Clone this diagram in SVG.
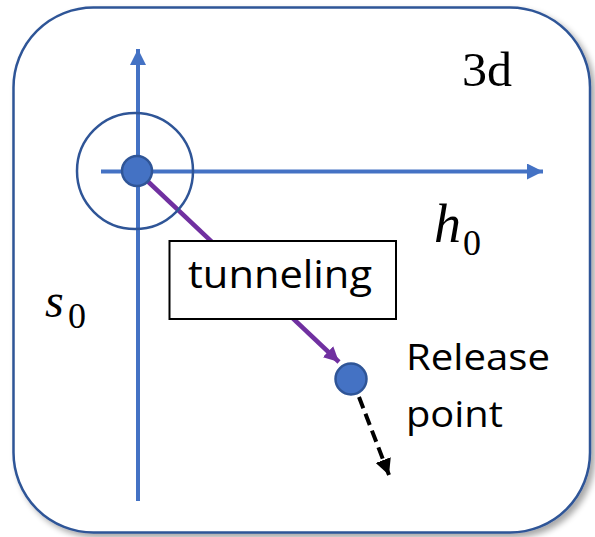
<svg xmlns="http://www.w3.org/2000/svg" width="595" height="537" viewBox="0 0 595 537">
  <defs>
    <filter id="shadow" x="-5%" y="-5%" width="115%" height="115%">
      <feGaussianBlur in="SourceAlpha" stdDeviation="3"/>
      <feOffset dx="4" dy="4" result="blur"/>
      <feComponentTransfer><feFuncA type="linear" slope="0.35"/></feComponentTransfer>
      <feMerge><feMergeNode/><feMergeNode in="SourceGraphic"/></feMerge>
    </filter>
    <marker id="headBlue" viewBox="0 0 16 16" refX="16" refY="8" markerWidth="16" markerHeight="16" markerUnits="userSpaceOnUse" orient="auto">
      <path d="M0,0 L16,8 L0,16 Z" fill="#4472C4"/>
    </marker>
    <marker id="headPurple" viewBox="0 0 15 15" refX="15" refY="7.5" markerWidth="15" markerHeight="15" markerUnits="userSpaceOnUse" orient="auto">
      <path d="M0,0 L15,7.5 L0,15 Z" fill="#7030A0"/>
    </marker>
    <marker id="headBlack" viewBox="0 0 16 16" refX="16" refY="8" markerWidth="16" markerHeight="16" markerUnits="userSpaceOnUse" orient="auto">
      <path d="M0,0 L16,8 L0,16 Z" fill="#000"/>
    </marker>
  </defs>
  <style>
    .frame { fill: #fff; stroke: #2F5597; stroke-width: 2.5; }
    .axis { stroke: #4472C4; stroke-width: 4; fill: none; }
    .dot { fill: #4472C4; stroke: #2F5597; stroke-width: 2.5; }
    .ring { fill: none; stroke: #2F5597; stroke-width: 2.5; }
    .sans { font-family: "Open Sans", "Liberation Sans", sans-serif; fill: #000; }
    .math { font-family: "Liberation Serif", "DejaVu Serif", serif; fill: #000; }
  </style>

  <rect class="frame" x="13.5" y="7.5" width="576.5" height="525" rx="80" ry="80" filter="url(#shadow)"/>

  <g id="connectors">
    <line class="axis" x1="138" y1="501" x2="138" y2="49" marker-end="url(#headBlue)"/>
    <line class="axis" x1="101" y1="171.5" x2="543" y2="171.5" marker-end="url(#headBlue)"/>
    <line x1="140" y1="174" x2="339" y2="362" stroke="#7030A0" stroke-width="4.5" marker-end="url(#headPurple)"/>
    <line x1="359" y1="397" x2="389" y2="475" stroke="#000" stroke-width="4" stroke-dasharray="12 6" marker-end="url(#headBlack)"/>
  </g>

  <g id="origin">
    <circle class="ring" cx="135" cy="171" r="58"/>
    <circle class="dot" cx="137" cy="171" r="15"/>
  </g>

  <g id="release-point">
    <circle class="dot" cx="351" cy="379" r="15.5"/>
    <text class="sans" x="406" y="370" font-size="37" textLength="144" lengthAdjust="spacingAndGlyphs">Release</text>
    <text class="sans" x="406" y="427" font-size="37" textLength="97" lengthAdjust="spacingAndGlyphs">point</text>
  </g>

  <g id="tunneling">
    <rect x="169.5" y="241" width="226.5" height="78" fill="#fff" stroke="#000" stroke-width="2"/>
    <text class="sans" x="188" y="288" font-size="39" textLength="184" lengthAdjust="spacingAndGlyphs">tunneling</text>
  </g>

  <g id="label-3d">
    <text class="math" x="462" y="86" font-size="48" textLength="50" lengthAdjust="spacingAndGlyphs">3d</text>
  </g>

  <g id="label-h0">
    <text class="math" x="434" y="242" font-size="54" font-style="italic">h</text>
    <text class="math" x="463" y="255" font-size="36">0</text>
  </g>

  <g id="label-s0">
    <text class="math" x="45" y="317" font-size="48" font-style="italic">s</text>
    <text class="math" x="68" y="328" font-size="36">0</text>
  </g>
</svg>
